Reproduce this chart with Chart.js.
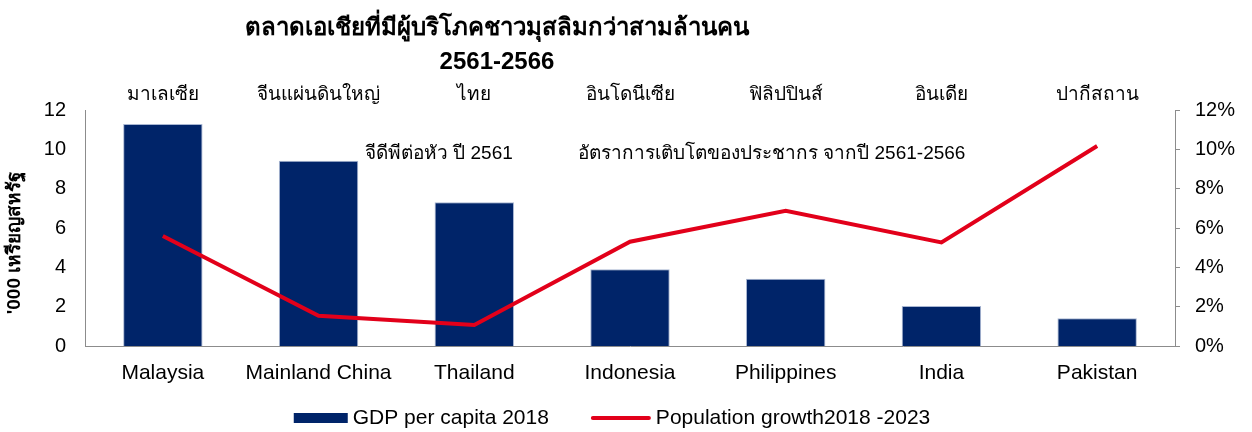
<!DOCTYPE html>
<html>
<head>
<meta charset="utf-8">
<script src="https://cdn.jsdelivr.net/npm/chart.js@4.4.0/dist/chart.umd.min.js"></script>
<style>
  html, body { margin: 0; padding: 0; background: #fff; }
  #wrap { width: 1252px; height: 432px; }
</style>
</head>
<body>
<div id="wrap"><canvas id="c"></canvas></div>
<script>
const categories = ['Malaysia', 'Mainland China', 'Thailand', 'Indonesia', 'Philippines', 'India', 'Pakistan'];
const thaiNames = ['มาเลเซีย', 'จีนแผ่นดินใหญ่', 'ไทย', 'อินโดนีเซีย', 'ฟิลิปปินส์', 'อินเดีย', 'ปากีสถาน'];
const gdpPerCapita = [11.29, 9.42, 7.31, 3.90, 3.42, 2.03, 1.41];      // '000 USD
const popGrowth = [5.59, 1.54, 1.07, 5.30, 6.88, 5.27, 10.17];        // percent
const leftTicks = [0, 2, 4, 6, 8, 10, 12];
const rightTicks = [0, 2, 4, 6, 8, 10, 12];

const titleLines = ['ตลาดเอเชียที่มีผู้บริโภคชาวมุสลิมกว่าสามล้านคน', '2561-2566'];
const yTitle = "'000 เหรียญสหรัฐ";
const gdpNote = 'จีดีพีต่อหัว ปี 2561';
const growthNote = 'อัตราการเติบโตของประชากร จากปี 2561-2566';

const FONT = "'Liberation Sans', Arial, 'Noto Sans', 'DejaVu Sans', sans-serif";
const NAVY = '#002469';
const RED = '#E2001A';
const AXIS = '#8c8c8c';

// Title, axis caption, in-plot notes and legend are painted directly on the canvas
const decorations = {
  id: 'decorations',
  afterDraw(chart) {
    const ctx = chart.ctx;
    ctx.save();
    ctx.fillStyle = '#000';
    ctx.textBaseline = 'middle';

    // title
    ctx.font = 'bold 24px ' + FONT;
    ctx.textAlign = 'center';
    ctx.fillText(titleLines[0], 497, 28);
    ctx.fillText(titleLines[1], 497, 62);

    // left axis caption
    ctx.save();
    ctx.translate(15, 243);
    ctx.rotate(-Math.PI / 2);
    ctx.font = 'bold 19px ' + FONT;
    ctx.fillText(yTitle, 0, 0);
    ctx.restore();

    // notes inside the plot
    ctx.font = '19px ' + FONT;
    ctx.textAlign = 'left';
    ctx.fillText(gdpNote, 365, 154);
    ctx.fillText(growthNote, 578, 154);

    // legend
    const ds = chart.data.datasets;
    const bar = ds.find(d => d.type === 'bar');
    const line = ds.find(d => d.type === 'line');
    ctx.font = '21px ' + FONT;
    const t1 = ctx.measureText(bar.label).width;
    const t2 = ctx.measureText(line.label).width;
    const sw1 = 54, sw2 = 60, gap = 5, itemGap = 42;
    const total = sw1 + gap + t1 + itemGap + sw2 + gap + t2;
    let x = 612 - total / 2;
    const y = 418;
    ctx.fillStyle = bar.backgroundColor;
    ctx.fillRect(x, y - 5, sw1, 10);
    x += sw1 + gap;
    ctx.fillStyle = '#000';
    ctx.fillText(bar.label, x, y);
    x += t1 + itemGap;
    ctx.strokeStyle = line.borderColor;
    ctx.lineWidth = 4;
    ctx.lineCap = 'round';
    ctx.beginPath();
    ctx.moveTo(x + 2, y);
    ctx.lineTo(x + sw2 - 2, y);
    ctx.stroke();
    x += sw2 + gap;
    ctx.fillText(line.label, x, y);
    ctx.restore();
  }
};

new Chart(document.getElementById('c'), {
  data: {
    labels: categories,
    datasets: [
      {
        type: 'line',
        label: 'Population growth2018 -2023',
        data: popGrowth,
        yAxisID: 'y2',
        borderColor: RED,
        backgroundColor: RED,
        borderWidth: 4,
        pointRadius: 0,
        tension: 0,
        order: 0
      },
      {
        type: 'bar',
        label: 'GDP per capita 2018',
        data: gdpPerCapita,
        yAxisID: 'y',
        backgroundColor: NAVY,
        borderColor: '#a8b6d2',
        borderWidth: 1,
        barPercentage: 0.51,
        categoryPercentage: 1.0,
        order: 1
      }
    ]
  },
  options: {
    responsive: true,
    maintainAspectRatio: false,
    animation: false,
    layout: { padding: { top: 78, bottom: 44, left: 0, right: 0 } },
    plugins: {
      legend: { display: false },
      title: { display: false },
      tooltip: { enabled: false }
    },
    scales: {
      x: {
        type: 'category',
        position: 'bottom',
        offset: true,
        grid: { display: false, drawTicks: false },
        border: { display: true, color: AXIS, width: 1 },
        ticks: { color: '#000', font: { family: FONT, size: 21 }, padding: 15, maxRotation: 0, autoSkip: false },
        afterFit(s) { s.height = 42; }
      },
      xTop: {
        type: 'category',
        position: 'top',
        labels: thaiNames,
        offset: true,
        grid: { display: false, drawTicks: false },
        border: { display: false },
        ticks: { color: '#000', font: { family: FONT, size: 19 }, padding: 4, maxRotation: 0, autoSkip: false },
        afterFit(s) { s.height = 32; }
      },
      y: {
        position: 'left',
        min: 0,
        max: 12,
        afterBuildTicks(s) { s.ticks = leftTicks.map(v => ({ value: v })); },
        grid: { display: false, drawTicks: false },
        border: { display: true, color: AXIS, width: 1 },
        ticks: { color: '#000', font: { family: FONT, size: 20 }, padding: 19 },
        afterFit(s) { s.width = 85; }
      },
      y2: {
        position: 'right',
        min: 0,
        max: 12,
        afterBuildTicks(s) { s.ticks = rightTicks.map(v => ({ value: v })); },
        grid: { display: true, drawOnChartArea: false, drawTicks: true, tickLength: 5, color: AXIS },
        border: { display: true, color: AXIS, width: 1 },
        ticks: { color: '#000', font: { family: FONT, size: 20 }, padding: 15, callback: v => v + '%' },
        afterFit(s) { s.width = 77; }
      }
    }
  },
  plugins: [decorations]
});
</script>
</body>
</html>
